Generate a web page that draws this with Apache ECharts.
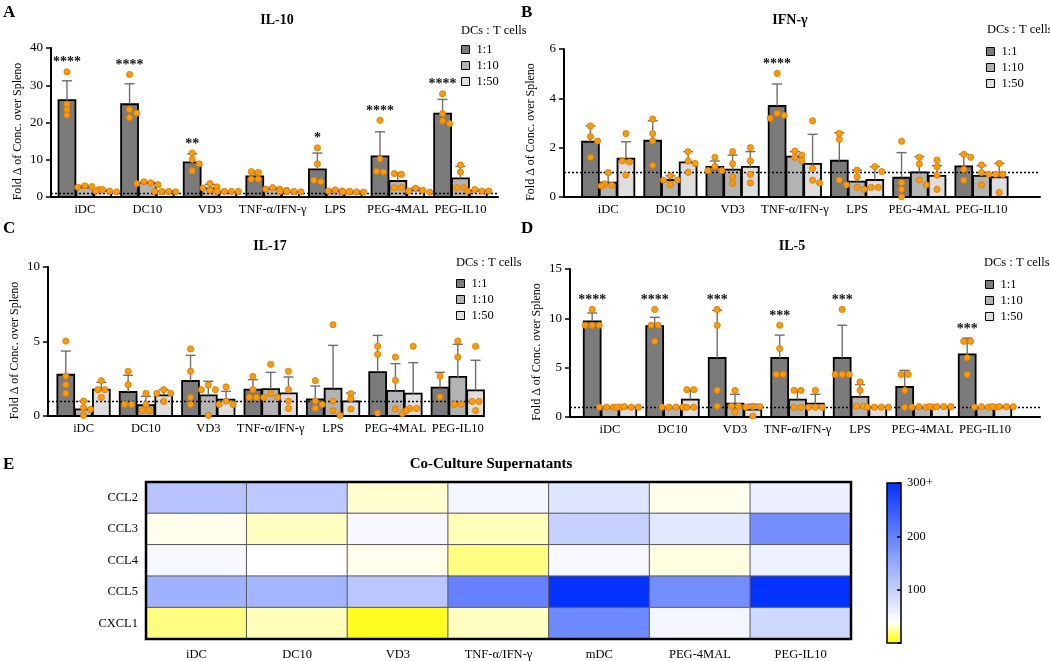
<!DOCTYPE html>
<html>
<head>
<meta charset="utf-8">
<script src="https://cdn.jsdelivr.net/npm/echarts@6/dist/echarts.min.js"></script>
<style>
  html, body { margin: 0; background: #fff; }
  #chart { width: 1050px; height: 661px; }
</style>
</head>
<body>
<div id="chart"></div>
<script>
// categories / groups
const categories = ['iDC', 'DC10', 'VD3', 'TNF-α/IFN-γ', 'LPS', 'PEG-4MAL', 'PEG-IL10'];
const ratios = ['1:1', '1:10', '1:50'];

// IL-10 (rows = 1:1, 1:10, 1:50)
const il10Means = [
  [26.0, 24.9, 9.3, 5.5, 7.4, 10.9, 22.4],
  [2.6, 3.7, 2.3, 2.1, 1.6, 4.3, 5.0],
  [1.6, 1.5, 1.4, 1.4, 1.4, 1.8, 1.7]
];
const il10Sds = [
  [5.2, 5.5, 2.3, 1.4, 4.4, 6.6, 3.8],
  [0.5, 0.4, 1.1, 0.4, 0.3, 2.1, 3.2],
  [0.3, 0.1, 0.1, 0.1, 0.2, 0.6, 0.2]
];
const il10Points = [
  [[33.6, 24.9, 23.4, 22.0], [32.9, 23.5, 22.5, 21.3], [11.8, 10.1, 8.9, 7.0], [6.6, 6.8, 4.8, 4.8], [13.2, 8.9, 4.1, 4.5], [20.6, 10.2, 6.7, 6.9], [27.7, 19.7, 22.4, 20.4]],
  [[2.0, 3.0, 2.6, 2.8], [3.3, 4.1, 3.6, 3.8], [3.6, 1.8, 2.7, 2.4], [1.8, 2.5, 2.1, 2.1], [1.4, 1.9, 1.6, 1.6], [6.1, 6.3, 2.5, 2.5], [8.6, 6.7, 2.5, 2.5]],
  [[1.4, 2.0, 1.6, 1.6], [1.5, 1.5, 1.4, 1.5], [1.5, 1.5, 1.5, 1.5], [1.5, 1.5, 1.4, 1.5], [1.3, 1.5, 1.4, 1.4], [1.6, 2.4, 1.3, 1.8], [1.6, 2.0, 1.6, 1.6]]
];
const il10Stars = ['****', '****', '**', '', '*', '****', '****'];

// IFN-γ
const ifngMeans = [
  [2.24, 2.28, 1.22, 3.69, 1.47, 0.78, 1.24],
  [0.58, 0.69, 1.11, 1.64, 0.62, 1.0, 0.86],
  [1.55, 1.4, 1.22, 1.34, 0.69, 0.86, 0.8]
];
const ifngSds = [
  [0.64, 0.81, 0.24, 0.89, 1.14, 1.02, 0.49],
  [0.41, 0.17, 0.59, 0.2, 0.47, 0.64, 0.41],
  [0.69, 0.44, 0.62, 1.2, 0.54, 0.41, 0.56]
];
const ifngPoints = [
  [[2.45, 2.88, 2.27, 1.61], [3.16, 2.57, 2.27, 1.28], [1.61, 1.24, 1.07, 1.07], [5.01, 3.39, 3.19, 3.31], [2.58, 2.34, 0.69, 0.49], [2.26, 0.58, 0.31, 0.01], [1.61, 1.73, 1.12, 0.68]],
  [[0.99, 0.53, 0.45, 0.48], [0.86, 0.69, 0.5, 0.68], [1.84, 1.35, 0.8, 0.55], [1.7, 1.86, 1.47, 1.61], [1.09, 0.82, 0.31, 0.39], [1.61, 1.34, 0.69, 0.49], [1.3, 0.99, 0.92, 0.49]],
  [[2.57, 1.46, 1.42, 0.89], [1.84, 1.46, 1.36, 1.0], [2.0, 1.46, 0.92, 0.57], [3.09, 1.16, 0.57, 0.68], [1.23, 1.03, 0.39, 0.39], [1.5, 1.23, 0.89, 0.31], [1.36, 0.92, 0.92, 0.18]]
];
const ifngStars = ['', '', '', '****', '', '', ''];

// IL-17
const il17Means = [
  [2.77, 1.61, 2.35, 1.77, 1.12, 2.95, 1.9],
  [0.45, 0.72, 1.39, 1.81, 1.83, 1.68, 2.62],
  [1.77, 1.39, 1.1, 1.52, 0.98, 1.5, 1.72]
];
const il17Sds = [
  [1.59, 1.12, 1.72, 0.67, 0.89, 2.46, 1.03],
  [0.55, 0.6, 0.94, 1.12, 2.91, 1.83, 2.19],
  [0.49, 0.38, 0.56, 1.1, 0.56, 2.08, 2.02]
];
const il17Points = [
  [[5.03, 2.68, 2.1, 1.52], [3.0, 2.1, 0.78, 0.78], [4.5, 3.0, 1.25, 0.78], [2.66, 1.77, 1.25, 1.25], [2.37, 1.0, 0.78, 0.51], [4.68, 4.14, 0.2], [2.68, 1.28]],
  [[1.0, 0.56, 0.45, 0.04], [1.52, 0.78, 0.36, 0.36], [2.08, 1.77, 1.77, 0.04], [3.47, 1.52, 1.25, 1.25], [6.13, 1.0, 0.36, 0.04], [3.96, 2.39, 0.47, 0.16], [5.03, 3.96, 0.78, 0.78]],
  [[2.37, 1.77, 1.77, 1.25], [1.77, 1.52, 1.52, 0.98], [1.95, 1.0, 0.78, 0.78], [3.0, 1.77, 1.0, 0.51], [1.5, 1.16, 0.47], [4.68, 0.51, 0.51, 0.36], [4.68, 0.98, 0.98, 0.36]]
];
const il17Stars = ['', '', '', '', '', '', ''];

// IL-5
const il5Means = [
  [9.7, 9.22, 5.98, 5.98, 5.98, 3.04, 6.35],
  [0.98, 0.98, 1.35, 1.76, 2.03, 0.98, 0.98],
  [1.0, 1.76, 0.74, 1.35, 1.0, 1.05, 1.05]
];
const il5Sds = [
  [0.84, 0.88, 4.82, 2.32, 3.32, 1.69, 1.65],
  [0.02, 0.02, 0.95, 0.94, 1.25, 0.04, 0.02],
  [0.05, 1.01, 0.56, 0.95, 0.05, 0.02, 0.02]
];
const il5Points = [
  [[10.9, 9.3, 9.3, 9.3], [10.9, 9.3, 9.3, 7.67], [10.9, 9.3, 2.7, 1.1], [9.3, 6.93, 4.32, 4.32], [10.9, 4.32, 4.32, 4.32], [4.32, 4.32, 2.7, 0.98], [7.67, 7.67, 6.0, 4.32]],
  [[1, 1, 1, 1], [1, 1, 1, 1], [2.7, 1.1, 1.1, 0.5], [2.7, 2.7, 0.98, 0.98], [3.55, 2.7, 1.1, 1.1], [1.05, 1.0, 1.0, 1.0], [1.0, 1.05, 1.0, 1.0]],
  [[1.0, 1.05, 1.0, 1.0], [2.77, 2.77, 0.98, 0.98], [1.05, 1.05, 1.0, 0.1], [2.7, 0.98, 0.98, 0.98], [1, 1, 1, 1], [1.05, 1.05, 1.05, 1.05], [1.05, 1.05, 1.05, 1.05]]
];
const il5Stars = ['****', '****', '***', '***', '***', '', '***'];

// heatmap (co-culture supernatants)
const hmCols = ['iDC', 'DC10', 'VD3', 'TNF-α/IFN-γ', 'mDC', 'PEG-4MAL', 'PEG-IL10'];
const hmRows = ['CCL2', 'CCL3', 'CCL4', 'CCL5', 'CXCL1'];
const ccl2 = [115, 110, 32, 53, 74, 37, 60];
const ccl3 = [37, 30, 50, 29, 99, 70, 184];
const ccl4 = [50, 40, 37, 20, 50, 35, 58];
const ccl5 = [139, 135, 113, 200, 300, 184, 300];
const cxcl1 = [20, 29, 5, 30, 190, 53, 89];
const colorbarTicks = [0, 100, 200, 300];

// ---- styling ----
const FONT = '"Liberation Serif", "Times New Roman", serif';
const BAR_COLORS = ['#7b7b7b', '#b3b3b3', '#dedede'];
const BAR_W = 0.27, BAR_STEP = 0.285;   // in category units
const DOT_STEP = 7, DOT_MIN = 5;        // px

const panels = [
  { title: 'IL-10', letter: 'A', means: il10Means, sds: il10Sds, points: il10Points, stars: il10Stars, max: 40, interval: 10,
    xMin: -0.54, xMax: 6.6,
    grid: { left: 51, top: 48, width: 447, height: 149 }, letterPos: [3, 4], titlePos: [277, 13], legendPos: [461, 43], legendTitlePos: [461, 24] },
  { title: 'IFN-γ', letter: 'B', means: ifngMeans, sds: ifngSds, points: ifngPoints, stars: ifngStars, max: 6, interval: 2,
    xMin: -0.71, xMax: 6.94,
    grid: { left: 564, top: 49, width: 476, height: 148 }, letterPos: [521, 4], titlePos: [790, 13], legendPos: [986, 45], legendTitlePos: [987, 23] },
  { title: 'IL-17', letter: 'C', means: il17Means, sds: il17Sds, points: il17Points, stars: il17Stars, max: 10, interval: 5,
    xMin: -0.57, xMax: 6.42,
    grid: { left: 48, top: 267, width: 436, height: 149 }, letterPos: [3, 220], titlePos: [270, 239], legendPos: [456, 277], legendTitlePos: [456, 256] },
  { title: 'IL-5', letter: 'D', means: il5Means, sds: il5Sds, points: il5Points, stars: il5Stars, max: 15, interval: 5,
    xMin: -0.64, xMax: 6.88,
    grid: { left: 570, top: 269, width: 470, height: 148 }, letterPos: [521, 220], titlePos: [792, 239], legendPos: [985, 278], legendTitlePos: [984, 256] }
];

// simple beeswarm: horizontal pixel offsets so dots don't overlap
function swarm(vals, pxPerUnit) {
  const order = vals.map((v, i) => i).sort((a, b) => vals[b] - vals[a]);
  const xs = new Array(vals.length).fill(0);
  const placed = [];
  order.forEach(i => {
    const y = vals[i] * pxPerUnit;
    for (let k = 0; k < 20; k++) {
      const cand = k === 0 ? 0 : (k % 2 ? 1 : -1) * Math.ceil(k / 2) * DOT_STEP;
      if (placed.every(p => Math.hypot(p.x - cand, p.y - y) >= DOT_MIN)) {
        xs[i] = cand; placed.push({ x: cand, y }); break;
      }
    }
  });
  // center rows of equal values
  const used = new Set();
  order.forEach(i => {
    if (used.has(i)) return;
    const row = order.filter(j => !used.has(j) && Math.abs(vals[j] - vals[i]) * pxPerUnit < 1.5);
    row.forEach(j => used.add(j));
    if (row.length > 1) {
      const m = row.reduce((a, j) => a + xs[j], 0) / row.length;
      row.forEach(j => { xs[j] -= m; });
    }
  });
  return xs;
}

function offsetPx(api, s) {
  return (s - 1) * api.size([1, 0])[0] * BAR_STEP;
}

const grids = [], xAxes = [], yAxes = [], series = [], titles = [], legends = [];

panels.forEach((p, gi) => {
  grids.push(Object.assign({ outerBoundsMode: 'none' }, p.grid));
  xAxes.push({
    type: 'value', gridIndex: gi, min: p.xMin, max: p.xMax,
    axisLine: { show: true, onZero: false, lineStyle: { color: '#000', width: 2 } },
    axisTick: { show: false }, splitLine: { show: false },
    axisLabel: { customValues: categories.map((c, i) => i), formatter: v => categories[Math.round(v)],
      color: '#000', fontFamily: FONT, fontSize: 12.5, margin: 6 }
  });
  yAxes.push({
    type: 'value', gridIndex: gi, min: 0, max: p.max, interval: p.interval,
    name: 'Fold Δ of Conc. over Spleno', nameLocation: 'middle', nameGap: 27,
    nameTextStyle: { color: '#000', fontFamily: FONT, fontSize: 12, padding: [0, 18, 0, 0] },
    axisLine: { show: true, onZero: false, lineStyle: { color: '#000', width: 2 } },
    axisTick: { show: true, length: 5, lineStyle: { color: '#000', width: 1.5 } },
    splitLine: { show: false },
    axisLabel: { color: '#000', fontFamily: FONT, fontSize: 13, margin: 8 }
  });

  // bars (one series per DC:T ratio)
  ratios.forEach((r, s) => {
    series.push({
      type: 'custom', name: r, xAxisIndex: gi, yAxisIndex: gi, z: 2, silent: true,
      data: p.means[s].map((m, c) => [c, m]),
      encode: { x: 0, y: 1 },
      itemStyle: { color: BAR_COLORS[s], borderColor: '#000', borderWidth: 1 },
      renderItem: (params, api) => {
        const unit = api.size([1, 0])[0];
        const p0 = api.coord([api.value(0), 0]);
        const p1 = api.coord([api.value(0), api.value(1)]);
        const cx = p0[0] + offsetPx(api, s);
        const w = unit * BAR_W;
        return { type: 'rect', shape: { x: cx - w / 2, y: p1[1], width: w, height: p0[1] - p1[1] },
          style: { fill: BAR_COLORS[s], stroke: '#000', lineWidth: 1.8 } };
      }
    });
  });

  // error bars (mean -> mean + SD)
  const errData = [];
  ratios.forEach((r, s) => p.means[s].forEach((m, c) => errData.push([c, m, p.sds[s][c], s])));
  series.push({
    type: 'custom', xAxisIndex: gi, yAxisIndex: gi, data: errData, z: 3, silent: true,
    encode: { x: 0, y: 1 },
    renderItem: (params, api) => {
      const base = api.coord([api.value(0), api.value(1)]);
      const top = api.coord([api.value(0), api.value(1) + api.value(2)]);
      const x = base[0] + offsetPx(api, api.value(3));
      const st = { stroke: '#6e6e6e', lineWidth: 1.4 };
      return { type: 'group', children: [
        { type: 'line', shape: { x1: x, y1: base[1], x2: x, y2: top[1] }, style: st },
        { type: 'line', shape: { x1: x - 5, y1: top[1], x2: x + 5, y2: top[1] }, style: st }
      ] };
    }
  });

  // individual replicate dots
  const pxPerUnit = p.grid.height / p.max;
  const dotData = [];
  ratios.forEach((r, s) => p.points[s].forEach((vals, c) => {
    const xs = swarm(vals, pxPerUnit);
    vals.forEach((v, k) => dotData.push([c, v, s, xs[k]]));
  }));
  series.push({
    type: 'custom', xAxisIndex: gi, yAxisIndex: gi, data: dotData, z: 5, silent: true,
    encode: { x: 0, y: 1 },
    renderItem: (params, api) => {
      const pt = api.coord([api.value(0), api.value(1)]);
      return { type: 'circle',
        shape: { cx: pt[0] + offsetPx(api, api.value(2)) + api.value(3), cy: pt[1], r: 3.1 },
        style: { fill: '#ff9a0a', stroke: '#d47800', lineWidth: 0.8 } };
    },
    markLine: {
      silent: true, symbol: ['none', 'none'], animation: false,
      label: { show: false },
      lineStyle: { type: [2, 2], color: '#000', width: 1.3 },
      data: [{ yAxis: 1 }]
    }
  });

  // significance stars above the 1:1 bars
  const starData = [], starText = [];
  p.stars.forEach((t, c) => {
    if (!t) return;
    const top = Math.max(p.means[0][c] + p.sds[0][c], ...p.points[0][c]);
    starData.push([c, top]); starText.push(t);
  });
  series.push({
    type: 'custom', xAxisIndex: gi, yAxisIndex: gi, data: starData, z: 6, silent: true,
    encode: { x: 0, y: 1 },
    renderItem: (params, api) => {
      const pt = api.coord([api.value(0), api.value(1)]);
      return { type: 'text', x: pt[0] + offsetPx(api, 0), y: pt[1] - 9,
        style: { text: starText[params.dataIndex], fill: '#111', font: 'bold 14px ' + FONT, align: 'center', verticalAlign: 'middle' } };
    }
  });

  titles.push({ text: p.letter, left: p.letterPos[0], top: p.letterPos[1], padding: 0,
    textStyle: { fontFamily: FONT, fontSize: 17, fontWeight: 'bold', color: '#000' } });
  titles.push({ text: p.title, left: p.titlePos[0], top: p.titlePos[1], textAlign: 'center', padding: 0,
    textStyle: { fontFamily: FONT, fontSize: 14, fontWeight: 'bold', color: '#000' } });
  titles.push({ text: 'DCs : T cells', left: p.legendTitlePos[0], top: p.legendTitlePos[1], padding: 0,
    textStyle: { fontFamily: FONT, fontSize: 12.5, fontWeight: 'normal', color: '#000' } });
  legends.push({
    data: ratios, orient: 'vertical', left: p.legendPos[0], top: p.legendPos[1], padding: 0,
    icon: 'rect', itemWidth: 8, itemHeight: 8, itemGap: 3, selectedMode: false,
    itemStyle: { borderColor: '#000', borderWidth: 1 },
    textStyle: { fontFamily: FONT, fontSize: 12.5, color: '#000', padding: [0, 0, 0, 2] }
  });
});

// ---- heatmap panel ----
const hmGrid = grids.length;
grids.push({ left: 146, top: 482, width: 705, height: 157, show: true, borderColor: '#000', borderWidth: 2.5, z: 10, outerBoundsMode: 'none' });
xAxes.push({ type: 'category', gridIndex: hmGrid, data: hmCols, axisLine: { show: false }, axisTick: { show: false },
  axisLabel: { interval: 0, color: '#000', fontFamily: FONT, fontSize: 12.5, margin: 9 } });
yAxes.push({ type: 'category', gridIndex: hmGrid, data: hmRows, inverse: true, axisLine: { show: false }, axisTick: { show: false },
  axisLabel: { color: '#000', fontFamily: FONT, fontSize: 12.5, margin: 8 } });
const hmData = [];
[ccl2, ccl3, ccl4, ccl5, cxcl1].forEach((row, r) => row.forEach((v, c) => hmData.push([c, r, v])));
const hmSeriesIndex = series.length;
series.push({ type: 'heatmap', xAxisIndex: hmGrid, yAxisIndex: hmGrid, data: hmData, silent: true,
  itemStyle: { borderColor: '#5a5a5a', borderWidth: 1 }, emphasis: { disabled: true } });

// colour scale: yellow -> white (~40) -> blue (300)
function mix(a, b, t) {
  const pa = [1, 3, 5].map(i => parseInt(a.substr(i, 2), 16));
  const pb = [1, 3, 5].map(i => parseInt(b.substr(i, 2), 16));
  return 'rgb(' + pa.map((v, i) => Math.round(v + (pb[i] - v) * t)).join(',') + ')';
}
const YEL = '#fffb00', WHITE = '#ffffff', BLUE = '#0433ff';
const stops = [YEL, mix(YEL, WHITE, 0.5), WHITE];
for (let k = 1; k <= 13; k++) stops.push(mix(WHITE, BLUE, k / 13));

// colour bar axis
const cbGrid = grids.length;
grids.push({ left: 887, top: 483, width: 14, height: 160, show: true, borderColor: '#000', borderWidth: 1.5, z: 10, outerBoundsMode: 'none' });
xAxes.push({ type: 'value', gridIndex: cbGrid, min: 0, max: 1, show: false });
yAxes.push({ type: 'value', gridIndex: cbGrid, position: 'right', min: colorbarTicks[0], max: colorbarTicks[3], interval: 100, z: 12,
  axisLine: { show: false, onZero: false }, splitLine: { show: false },
  axisTick: { show: true, inside: true, length: 4, lineStyle: { color: '#000', width: 1.5 } },
  axisLabel: { color: '#000', fontFamily: FONT, fontSize: 12.5, margin: 6,
    formatter: v => v === 300 ? '300+' : (v === 0 ? '' : String(v)) } });

titles.push({ text: 'E', left: 3, top: 456, padding: 0,
  textStyle: { fontFamily: FONT, fontSize: 17, fontWeight: 'bold', color: '#000' } });
titles.push({ text: 'Co-Culture Supernatants', left: 491, top: 457, textAlign: 'center', padding: 0,
  textStyle: { fontFamily: FONT, fontSize: 15, fontWeight: 'bold', color: '#000' } });

const chart = echarts.init(document.getElementById('chart'), null, { renderer: 'canvas' });
chart.setOption({
  backgroundColor: '#fff',
  animation: false,
  title: titles,
  legend: legends,
  grid: grids,
  xAxis: xAxes,
  yAxis: yAxes,
  visualMap: [{
    type: 'continuous', seriesIndex: hmSeriesIndex, min: 0, max: 300, calculable: false,
    orient: 'vertical', left: 887, top: 483, itemWidth: 14, itemHeight: 160, padding: 0,
    text: null, showLabel: false, inRange: { color: stops }
  }],
  series: series
});
</script>
</body>
</html>
